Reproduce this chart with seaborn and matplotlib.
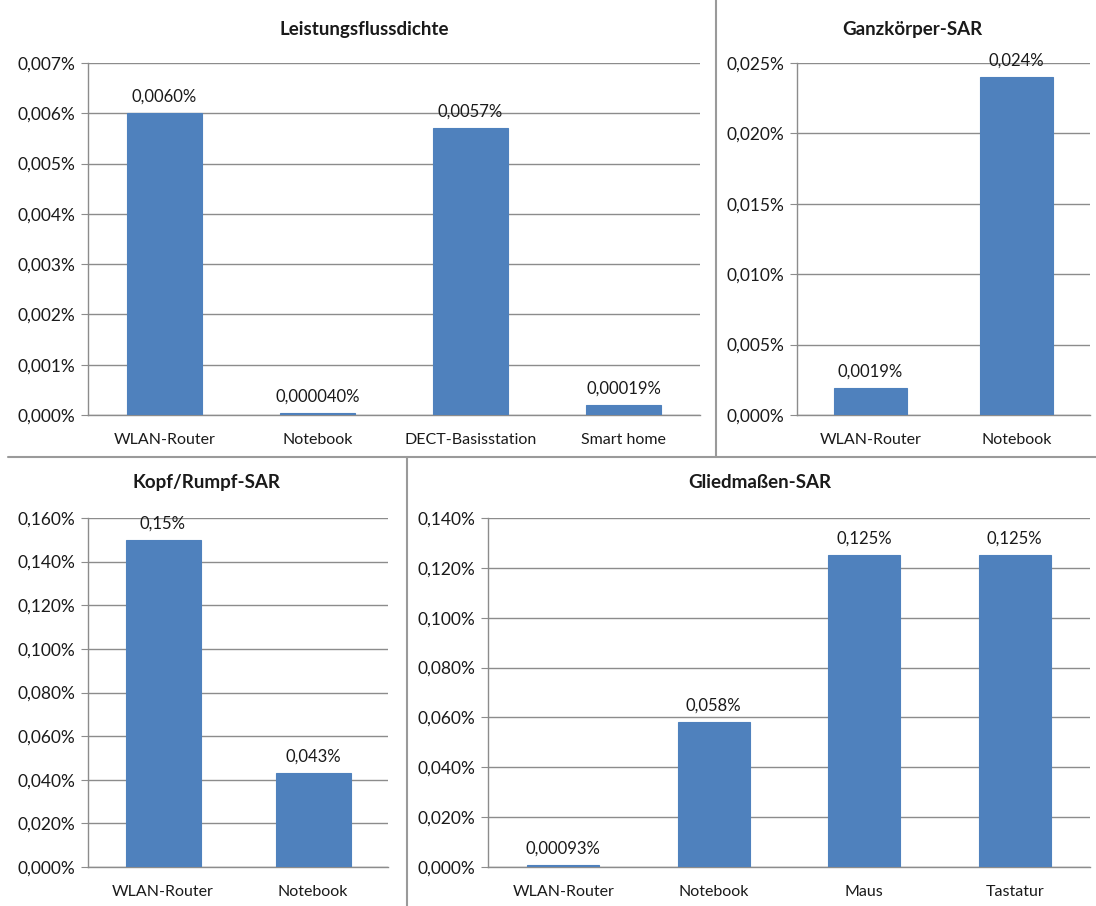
import matplotlib
matplotlib.use("Agg")
import matplotlib.pyplot as plt
from matplotlib.lines import Line2D
from matplotlib.ticker import FuncFormatter, MultipleLocator
import seaborn as sns
import pandas as pd

# ---- data (values in percent) ----
lfd_cats = ["WLAN-Router", "Notebook", "DECT-Basisstation", "Smart home"]
lfd_vals = [0.0060, 0.000040, 0.0057, 0.00019]
lfd_labels = ["0,0060%", "0,000040%", "0,0057%", "0,00019%"]

gk_cats = ["WLAN-Router", "Notebook"]
gk_vals = [0.0019, 0.024]
gk_labels = ["0,0019%", "0,024%"]

kr_cats = ["WLAN-Router", "Notebook"]
kr_vals = [0.15, 0.043]
kr_labels = ["0,15%", "0,043%"]

gm_cats = ["WLAN-Router", "Notebook", "Maus", "Tastatur"]
gm_vals = [0.00093, 0.058, 0.125, 0.125]
gm_labels = ["0,00093%", "0,058%", "0,125%", "0,125%"]

sns.set_style("white")
plt.rcParams["font.family"] = ["Lato", "DejaVu Sans"]

W, H = 1096, 906
fig = plt.figure(figsize=(W / 100, H / 100), dpi=100)

BAR = "#4F81BD"
GRID = "#8C8C8C"
TXT = "#1a1a1a"


def px_axes(left, right, top, bottom):
    return fig.add_axes([left / W, 1 - bottom / H, (right - left) / W, (bottom - top) / H])


def pct_fmt(x, pos):
    return f"{x:.3f}%".replace(".", ",")


def panel(ax, cats, vals, labels, ymax, step, width):
    df = pd.DataFrame({"cat": cats, "val": vals})
    sns.barplot(data=df, x="cat", y="val", color=BAR, saturation=1, width=width,
                linewidth=0, ax=ax, zorder=3)
    # keep very small values visible as a thin bar, as in office charts
    for p in ax.patches:
        p.set_edgecolor(BAR)
        p.set_linewidth(0.8)
    ax.set_xlim(-0.5, len(cats) - 0.5)
    ax.set_ylim(0, ymax)
    ax.yaxis.set_major_locator(MultipleLocator(step))
    ax.yaxis.set_major_formatter(FuncFormatter(pct_fmt))
    ax.set_xlabel("")
    ax.set_ylabel("")
    ax.grid(axis="y", color=GRID, linewidth=1.0, zorder=0)
    ax.set_axisbelow(True)
    for s in ("top", "right"):
        ax.spines[s].set_visible(False)
    for s in ("left", "bottom"):
        ax.spines[s].set_color(GRID)
        ax.spines[s].set_linewidth(1.0)
    # category ticks sit between the bars
    ax.set_xticks([i for i in range(len(cats))])
    ax.set_xticklabels(cats)
    ax.set_xticks([i - 0.5 for i in range(len(cats) + 1)], minor=True)
    ax.tick_params(axis="x", which="major", length=0, pad=13, labelsize=11.5, labelcolor=TXT)
    ax.tick_params(axis="x", which="minor", length=5, color=GRID, direction="out")
    ax.tick_params(axis="y", length=5, color=GRID, direction="out", pad=4,
                   labelsize=12.5, labelcolor=TXT, left=True)
    for i, (v, lab) in enumerate(zip(vals, labels)):
        ax.annotate(lab, (i, v), xytext=(0, 6), textcoords="offset points",
                    ha="center", va="bottom", fontsize=12, color=TXT)


ax1 = px_axes(88, 700, 63, 415)
panel(ax1, lfd_cats, lfd_vals, lfd_labels, 0.007, 0.001, 0.49)
ax2 = px_axes(797, 1090, 63, 415)
panel(ax2, gk_cats, gk_vals, gk_labels, 0.025, 0.005, 0.5)
ax3 = px_axes(88, 388, 518, 867)
panel(ax3, kr_cats, kr_vals, kr_labels, 0.16, 0.02, 0.5)
ax4 = px_axes(488, 1090, 518, 867)
panel(ax4, gm_cats, gm_vals, gm_labels, 0.14, 0.02, 0.48)

# panel titles
titles = [("Leistungsflussdichte", 364, 30), ("Ganzkörper-SAR", 912, 30),
          ("Kopf/Rumpf-SAR", 207, 483), ("Gliedmaßen-SAR", 760, 483)]
for t, x, y in titles:
    fig.text(x / W, 1 - y / H, t, ha="center", va="center", fontsize=13.5,
             fontweight="bold", color=TXT)

# separator lines between the chart panels
SEP = "#9a9a9a"
fig.add_artist(Line2D([716 / W, 716 / W], [1, 1 - 457 / H], color=SEP, lw=1.5))
fig.add_artist(Line2D([8 / W, 1], [1 - 457 / H, 1 - 457 / H], color=SEP, lw=1.5))
fig.add_artist(Line2D([407 / W, 407 / W], [1 - 457 / H, 0], color=SEP, lw=1.5))

fig.savefig("out.png", dpi=100, facecolor="white")
